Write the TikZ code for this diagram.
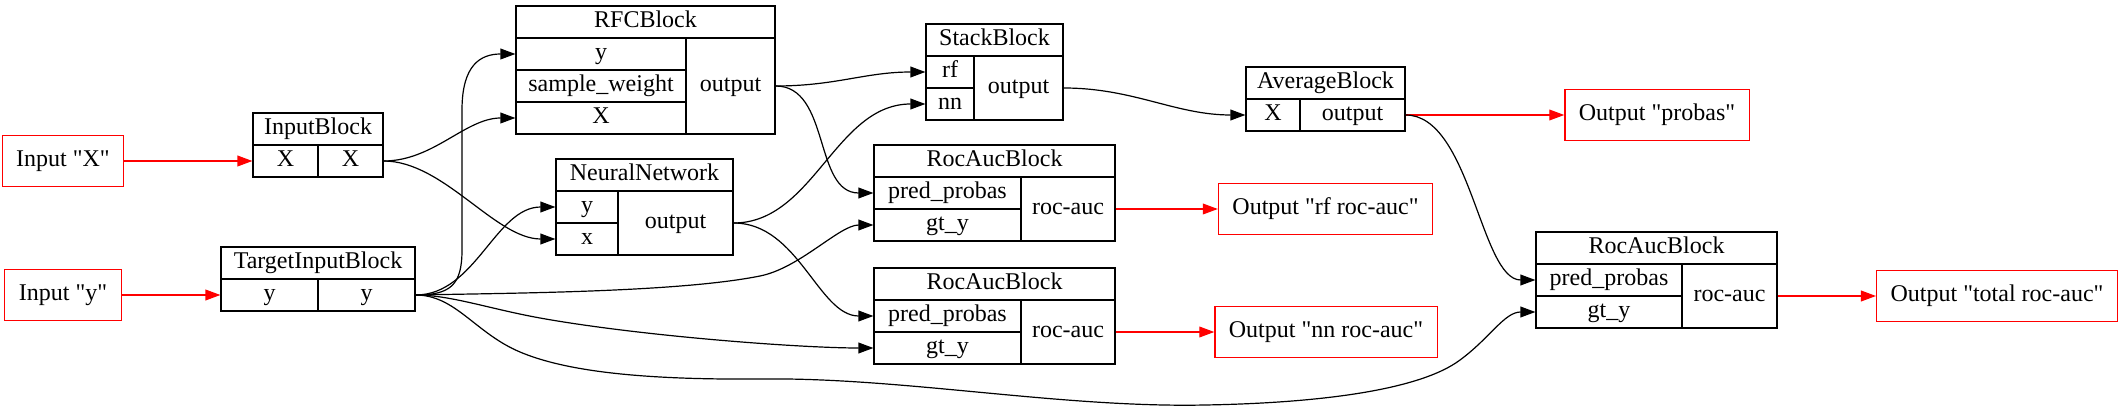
\documentclass[tikz,border=0pt]{standalone}
\usepackage{fontspec}
\setmainfont{Liberation Serif}[Ligatures=TeXOff]
\usetikzlibrary{arrows.meta}

\begin{document}
\begin{tikzpicture}[x=0.5pt,y=-0.5pt,font=\fontsize{12}{14}\selectfont,
  cell/.style={draw, line width=0.6pt, inner sep=0pt, minimum height=16pt, text height=8.4pt, text depth=2.6pt},
  io/.style={draw=red, line width=0.6pt, inner xsep=7pt, minimum height=25.5pt, text height=8.4pt, text depth=2.6pt},
  flow/.style={-{Triangle[length=7.5pt,width=5.4pt]}, line width=0.6pt},
  outflow/.style={flow, red}]
  \useasboundingbox (0,0) rectangle (2124,411);

  \node[io] (inX) at (63,161) {Input "X"};
  \node[io] (inY) at (63,295) {Input "y"};

  \node[cell, minimum width=65pt] (ib) at (318,129) {InputBlock};
  \node[cell, minimum width=32.5pt] (ib-in) at (285.5,161) {X};
  \node[cell, minimum width=32.5pt] (ib-out) at (350.5,161) {X};

  \node[cell, minimum width=97pt] (tib) at (318,263) {TargetInputBlock};
  \node[cell, minimum width=48.5pt] (tib-in) at (269.5,295) {y};
  \node[cell, minimum width=48.5pt] (tib-out) at (366.5,295) {y};

  \node[cell, minimum width=129.5pt] (rfc) at (645.5,22) {RFCBlock};
  \node[cell, minimum width=85pt] (rfc-y) at (601,54) {y};
  \node[cell, minimum width=85pt] (rfc-sw) at (601,86) {sample\_weight};
  \node[cell, minimum width=85pt] (rfc-X) at (601,118) {X};
  \node[cell, minimum width=44.5pt, minimum height=48pt] (rfc-out) at (730.5,86) {output};

  \node[cell, minimum width=88.5pt] (nn) at (644.5,175) {NeuralNetwork};
  \node[cell, minimum width=31pt] (nn-y) at (587,207) {y};
  \node[cell, minimum width=31pt] (nn-x) at (587,239) {x};
  \node[cell, minimum width=57.5pt, minimum height=32pt] (nn-out) at (675.5,223) {output};

  \node[cell, minimum width=68.5pt] (sb) at (994.5,40) {StackBlock};
  \node[cell, minimum width=24pt] (sb-rf) at (950,72) {rf};
  \node[cell, minimum width=24pt] (sb-nn) at (950,104) {nn};
  \node[cell, minimum width=44.5pt, minimum height=32pt] (sb-out) at (1018.5,88) {output};

  \node[cell, minimum width=120.5pt] (ra1) at (994.5,161) {RocAucBlock};
  \node[cell, minimum width=73.5pt] (ra1-pred) at (947.5,193) {pred\_probas};
  \node[cell, minimum width=73.5pt] (ra1-gt) at (947.5,225) {gt\_y};
  \node[cell, minimum width=47pt, minimum height=32pt] (ra1-out) at (1068,209) {roc-auc};

  \node[cell, minimum width=120.5pt] (ra2) at (994.5,284) {RocAucBlock};
  \node[cell, minimum width=73.5pt] (ra2-pred) at (947.5,316) {pred\_probas};
  \node[cell, minimum width=73.5pt] (ra2-gt) at (947.5,348) {gt\_y};
  \node[cell, minimum width=47pt, minimum height=32pt] (ra2-out) at (1068,332) {roc-auc};

  \node[cell, minimum width=79.5pt] (ab) at (1325.5,83) {AverageBlock};
  \node[cell, minimum width=27pt] (ab-X) at (1273,115) {X};
  \node[cell, minimum width=52.5pt] (ab-out) at (1352.5,115) {output};

  \node[cell, minimum width=120.5pt] (ra3) at (1656.5,248) {RocAucBlock};
  \node[cell, minimum width=73pt] (ra3-pred) at (1609,280) {pred\_probas};
  \node[cell, minimum width=73pt] (ra3-gt) at (1609,312) {gt\_y};
  \node[cell, minimum width=47.5pt, minimum height=32pt] (ra3-out) at (1729.5,296) {roc-auc};

  \node[io] (outPr) at (1657,115) {Output "probas"};
  \node[io] (outRf) at (1325.5,209) {Output "rf roc-auc"};
  \node[io] (outNn) at (1326,332) {Output "nn roc-auc"};
  \node[io] (outTot) at (1997,296) {Output "total roc-auc"};

  \draw[outflow] (inX.east) -- (ib-in.west);
  \draw[outflow] (inY.east) -- (tib-in.west);
  \draw[outflow] (ab-out.east) -- (outPr.west);
  \draw[outflow] (ra1-out.east) -- (outRf.west);
  \draw[outflow] (ra2-out.east) -- (outNn.west);
  \draw[outflow] (ra3-out.east) -- (outTot.west);

  \draw[flow] (ib-out.east) .. controls +(50,0) and +(-50,0) .. (rfc-X.west);
  \draw[flow] (ib-out.east) .. controls +(60,0) and +(-60,0) .. (nn-x.west);
  \draw[flow] (tib-out.east) .. controls +(35,0) and +(0,35) .. (462,250) -- (462,110)
    .. controls +(0,-45) and +(-35,0) .. (rfc-y.west);
  \draw[flow] (tib-out.east) .. controls +(60,0) and +(-60,0) .. (nn-y.west);
  \draw[flow] (tib-out.east) .. controls +(105,-2) and +(-80,16) .. (760,276)
    .. controls +(40,-8) and +(-34,0) .. (ra1-gt.west);
  \draw[flow] (tib-out.east) .. controls +(35,0) and +(-50,-9) .. (540,318)
    .. controls +(100,18) and +(-74,0) .. (ra2-gt.west);
  \draw[flow] (tib-out.east) .. controls +(40,0) and +(-45,-19) .. (520,352)
    .. controls +(45,19) and +(-120,1) .. (760,379)
    .. controls +(140,-2) and +(-145,3) .. (1205,405)
    .. controls +(115,-2) and +(-40,30) .. (1460,360)
    .. controls +(30,-22) and +(-31,0) .. (ra3-gt.west);
  \draw[flow] (rfc-out.east) .. controls +(60,0) and +(-60,0) .. (sb-rf.west);
  \draw[flow] (rfc-out.east) .. controls +(55,0) and +(-60,0) .. (ra1-pred.west);
  \draw[flow] (nn-out.east) .. controls +(80,0) and +(-90,0) .. (sb-nn.west);
  \draw[flow] (nn-out.east) .. controls +(65,0) and +(-55,0) .. (ra2-pred.west);
  \draw[flow] (sb-out.east) .. controls +(70,0) and +(-70,0) .. (ab-X.west);
  \draw[flow] (ab-out.east) .. controls +(65,0) and +(-55,0) .. (ra3-pred.west);
\end{tikzpicture}
\end{document}
